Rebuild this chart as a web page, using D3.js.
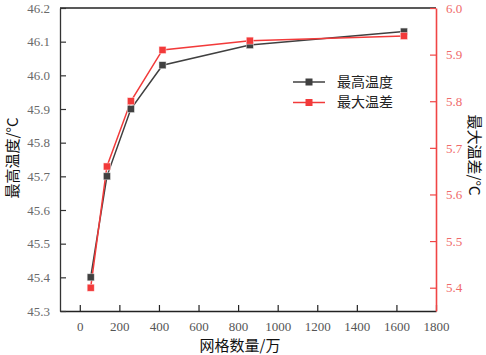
<!DOCTYPE html>
<html><head><meta charset="utf-8">
<script src="https://cdn.jsdelivr.net/npm/d3@7"></script>
<style>
body{margin:0;background:#fff;}
.ax text{font-family:"Liberation Serif","Times New Roman","DejaVu Serif",serif !important;font-size:13px;}
</style>
</head><body>
<svg id="c" width="486" height="355"></svg>
<script>
const meshCounts = [55, 137, 258, 418, 859, 1638];
const maxTemp = [45.40, 45.70, 45.90, 46.03, 46.09, 46.13];
const maxDiff = [5.40, 5.66, 5.80, 5.91, 5.93, 5.94];
const xTicks = [0, 200, 400, 600, 800, 1000, 1200, 1400, 1600, 1800];
const yLeftTicks = [45.3, 45.4, 45.5, 45.6, 45.7, 45.8, 45.9, 46.0, 46.1, 46.2];
const yRightTicks = [5.4, 5.5, 5.6, 5.7, 5.8, 5.9, 6.0];
const seriesNames = ["最高温度", "最大温差"];
const xTitle = "网格数量/万";
const yLeftTitle = "最高温度/°C";
const yRightTitle = "最大温差/°C";

const L = 60, R = 436, T = 8, B = 311;
const black = "#404040", red = "#f23a3a";
const cjkFont = "Noto Sans CJK SC, Noto Sans CJK JP, sans-serif";

const svg = d3.select("#c");
const x = d3.scaleLinear().domain([-100, 1800]).range([L, R]);
const yL = d3.scaleLinear().domain([45.3, 46.2]).range([B, T]);
const yR = d3.scaleLinear().domain([5.35, 6.0]).range([B, T]);

// top border
svg.append("line").attr("x1", L).attr("x2", R).attr("y1", T).attr("y2", T)
  .attr("stroke", "#222").attr("stroke-width", 1.3);

function style(g, color, textColor) {
  g.attr("class", "ax").attr("font-family", null).attr("font-size", null);
  g.selectAll(".domain").attr("stroke", color).attr("stroke-width", 1.3);
  g.selectAll(".tick line").attr("stroke", color).attr("stroke-width", 1.2);
  g.selectAll("text").attr("fill", textColor);
}

const gx = svg.append("g").attr("transform", `translate(0,${B})`)
  .call(d3.axisBottom(x).tickValues(xTicks).tickFormat(d3.format("d")).tickSize(-6).tickPadding(11).tickSizeOuter(0));
style(gx, "#222", "#555");

const gl = svg.append("g").attr("transform", `translate(${L},0)`)
  .call(d3.axisLeft(yL).tickValues(yLeftTicks).tickFormat(d3.format(".1f")).tickSize(-6).tickPadding(10).tickSizeOuter(0));
style(gl, "#333", "#6a6a6a");

const gr = svg.append("g").attr("transform", `translate(${R},0)`)
  .call(d3.axisRight(yR).tickValues(yRightTicks).tickFormat(d3.format(".1f")).tickSize(-6).tickPadding(10).tickSizeOuter(0));
style(gr, "#f04545", "#f06a6a");
gr.selectAll(".domain").attr("stroke-width", 1.6);

// lines
const lineL = d3.line().x((d, i) => x(meshCounts[i])).y(d => yL(d));
const lineR = d3.line().x((d, i) => x(meshCounts[i])).y(d => yR(d));
svg.append("path").attr("d", lineL(maxTemp)).attr("fill", "none").attr("stroke", black).attr("stroke-width", 1.5);
svg.append("path").attr("d", lineR(maxDiff)).attr("fill", "none").attr("stroke", red).attr("stroke-width", 1.5);

const ms = 7;
svg.append("g").selectAll("rect").data(maxTemp).join("rect")
  .attr("x", (d, i) => x(meshCounts[i]) - ms / 2).attr("y", d => yL(d) - ms / 2)
  .attr("width", ms).attr("height", ms).attr("fill", black).attr("stroke", "#ddd").attr("stroke-width", 0.5);
svg.append("g").selectAll("rect").data(maxDiff).join("rect")
  .attr("x", (d, i) => x(meshCounts[i]) - ms / 2).attr("y", d => yR(d) - ms / 2)
  .attr("width", ms).attr("height", ms).attr("fill", red).attr("stroke", "#fdd").attr("stroke-width", 0.5);

// legend
const legend = [{name: seriesNames[0], color: black}, {name: seriesNames[1], color: red}];
legend.forEach((d, i) => {
  const yy = 82 + i * 20.5;
  svg.append("line").attr("x1", 293).attr("x2", 325).attr("y1", yy).attr("y2", yy)
    .attr("stroke", d.color).attr("stroke-width", 1.5);
  svg.append("rect").attr("x", 309 - 3.5).attr("y", yy - 3.5).attr("width", 7).attr("height", 7).attr("fill", d.color);
  svg.append("text").attr("x", 337).attr("y", yy).attr("dy", "0.35em")
    .attr("font-family", cjkFont).attr("font-size", 14).attr("fill", "#222").text(d.name);
});

// titles
svg.append("text").attr("x", 240).attr("y", 346).attr("dy", "0.35em").attr("text-anchor", "middle")
  .attr("font-family", cjkFont).attr("font-size", 15).attr("fill", "#111").text(xTitle);
svg.append("text").attr("transform", "translate(13,158) rotate(-90)").attr("dy", "0.35em").attr("text-anchor", "middle")
  .attr("font-family", cjkFont).attr("font-size", 15).attr("fill", "#111").text(yLeftTitle);
svg.append("text").attr("transform", "translate(474,155) rotate(90)").attr("dy", "0.35em").attr("text-anchor", "middle")
  .attr("font-family", cjkFont).attr("font-size", 15).attr("fill", "#111").text(yRightTitle);
</script>
</body></html>
